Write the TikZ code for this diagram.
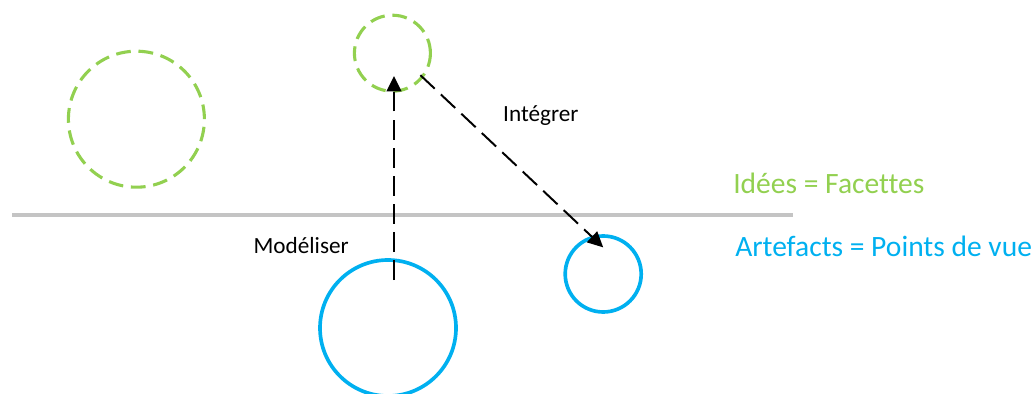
\documentclass[tikz,border=0pt]{standalone}
\usepackage{fontspec}
\setmainfont{Carlito}[Ligatures={NoCommon,NoRare,NoContextual}]
\usepackage{tikz}
\usetikzlibrary{arrows.meta}

\definecolor{ideegreen}{HTML}{92D050}
\definecolor{artblue}{HTML}{00B0F0}
\definecolor{linegray}{HTML}{C4C4C4}

\tikzset{
  idee/.style={circle, draw=ideegreen, line width=2.2pt, dash pattern=on 10.5pt off 5.5pt, inner sep=0pt},
  artefact/.style={circle, draw=artblue, line width=2.6pt, inner sep=0pt},
  link/.style={line width=1.4pt, dash pattern=on 14pt off 6pt, -{Triangle[length=11pt,width=10.5pt]}}
}

\begin{document}
\begin{tikzpicture}
\useasboundingbox (0, 0) rectangle (25.9, -9.85);
\draw[linegray, line width=2.2pt] (0.3, -5.375) -- (19.83, -5.375);
\node[idee, minimum size=3.4cm] (ideeA) at (3.41, -2.98) {};
\node[idee, minimum size=1.9cm] (ideeB) at (9.81, -1.33) {};
\node[artefact, minimum size=3.4cm] (artA) at (9.7, -8.2) {};
\node[artefact, minimum size=1.9cm] (artB) at (15.08, -6.85) {};
\draw[link] ([xshift=0.15cm, yshift=-0.55cm]artA.north) -- ([xshift=0.04cm, yshift=0.42cm]ideeB.south);
\draw[link] ([yshift=0.15cm]ideeB.south east) -- ([yshift=-0.33cm]artB.north);
\node[font=\fontsize{16.5}{19}\selectfont] (integrer) at (13.52, -2.9) {Intégrer};
\node[font=\fontsize{16.5}{19}\selectfont] (modeliser) at (7.53, -6.15) {Modéliser};
\node[anchor=west, inner sep=0pt, text=ideegreen, font=\fontsize{21}{25}\selectfont] (facettes) at (18.325, -4.575) {Idées = Facettes};
\node[anchor=west, inner sep=0pt, text=artblue, font=\fontsize{21}{25}\selectfont] (points) at (18.375, -6.17) {Artefacts = Points de vue};
\end{tikzpicture}
\end{document}
